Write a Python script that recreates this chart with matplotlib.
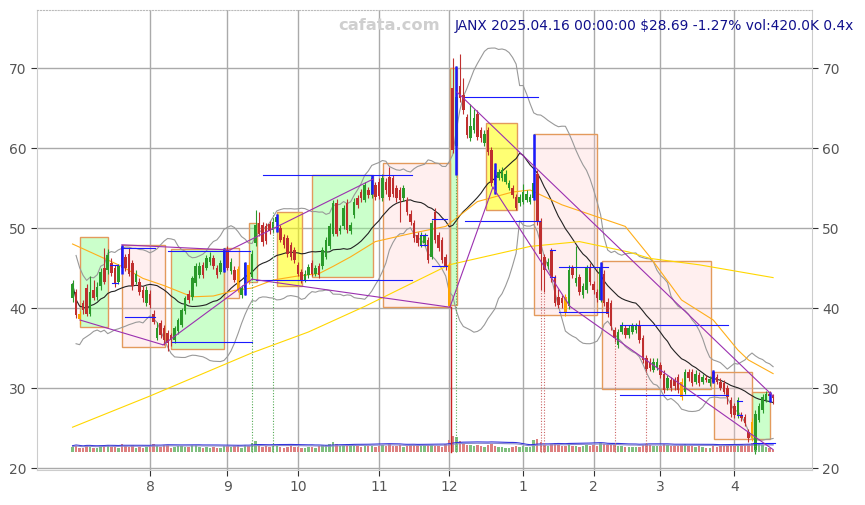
import numpy as np
import pandas as pd
import matplotlib
matplotlib.use("Agg")
import matplotlib.pyplot as plt
from matplotlib.patches import Rectangle

# daily bars, 2024-07-01 .. 2025-04-16
opens = [41.3, 42.0, 39.3, 40.6, 42.5, 39.3, 42.3, 41.4, 42.7, 45.0, 44.7, 45.6, 45.0, 43.3, 47.6, 46.4, 46.8, 45.6, 43.3, 43.3, 42.3, 40.6,
         41.8, 39.3, 36.3, 38.1, 37.5, 36.9, 36.6, 36.0, 37.1, 37.9, 39.6, 41.8, 41.4, 43.1, 44.1, 45.4, 45.0, 45.8, 46.2, 45.0, 44.5, 44.8,
         47.2, 44.6, 44.8, 44.9, 41.6, 42.5, 45.4, 43.9, 48.1, 50.6, 50.4, 50.2, 50.5, 49.7, 50.8, 50.0, 48.9, 48.7, 47.9, 47.2,
         45.4, 44.5, 43.5, 44.1, 45.6, 44.3, 45.2, 45.2, 46.4, 47.7, 49.3, 53.1, 49.6, 50.2, 53.1, 49.6, 51.6, 53.7, 54.5, 53.5, 54.7, 54.1, 55.4,
         55.8, 53.7, 55.8, 56.4, 56.2, 55.0, 54.7, 53.7, 53.5, 51.8, 50.6, 49.1, 47.9, 48.1, 48.5, 46.4, 52.0, 49.1, 48.5, 46.4,
         45.4, 67.5, 60.2, 67.7, 66.6, 63.9, 61.2, 62.2, 64.3, 62.2, 60.6, 62.2, 59.7, 57.2, 56.3, 56.2, 55.8, 55.0, 55.0, 53.9, 53.1,
         53.3, 53.5, 53.3, 53.7, 56.8, 50.8, 46.4, 45.3, 47.2, 43.7, 41.4, 41.2, 41.4, 40.2, 45.0, 43.1, 43.9, 41.6, 42.2, 45.0,
         43.0, 42.0, 41.0, 44.3, 40.8, 40.6, 37.2, 35.4, 37.0, 37.5, 36.6, 37.0, 37.2, 37.9, 36.2, 33.7, 33.3, 32.3, 32.5,
         32.9, 31.8, 30.0, 31.0, 31.0, 31.4, 30.8, 29.5, 32.0, 32.0, 30.8, 31.6, 30.8, 31.2, 30.6, 32.0, 31.4, 30.8, 30.6, 30.0, 28.5,
         27.7, 26.6, 26.6, 26.4, 24.5, 25.8, 22.2, 26.0, 27.2, 28.5, 29.3, 29.1]
highs = [43.5, 42.4, 39.6, 41.0, 43.0, 44.0, 43.5, 43.2, 45.0, 47.5, 47.4, 46.2, 45.4, 45.5, 47.9, 46.8, 47.5, 46.0, 44.8, 43.7, 42.7, 42.7,
         42.2, 39.8, 38.2, 38.5, 37.9, 37.2, 36.9, 37.8, 38.8, 40.0, 41.5, 42.3, 44.0, 45.6, 45.8, 45.8, 46.6, 47.0, 46.6, 45.4, 46.0, 47.5,
         47.7, 46.2, 45.2, 45.3, 42.9, 45.8, 45.8, 47.2, 52.2, 52.0, 50.8, 50.6, 50.9, 51.2, 51.8, 50.4, 49.3, 49.1, 48.3, 47.6,
         45.8, 44.9, 44.7, 45.5, 46.0, 45.4, 45.6, 47.6, 48.9, 50.6, 53.5, 53.6, 50.4, 52.9, 53.6, 50.8, 53.7, 54.1, 54.9, 55.8, 55.1, 56.6, 55.8,
         56.2, 56.8, 56.2, 57.6, 56.6, 55.4, 55.1, 55.4, 53.9, 52.2, 51.0, 49.5, 49.5, 49.4, 48.9, 51.0, 52.5, 49.5, 48.9, 46.8,
         45.8, 71.2, 70.2, 71.8, 68.7, 64.3, 65.5, 64.9, 64.7, 62.6, 62.2, 62.6, 60.1, 58.1, 57.4, 57.6, 57.2, 56.0, 55.4, 54.3, 54.3,
         55.5, 54.7, 54.3, 61.8, 57.2, 51.2, 46.8, 46.2, 47.5, 44.1, 42.4, 41.6, 41.8, 45.4, 45.4, 47.7, 44.3, 43.1, 45.4, 45.6,
         43.4, 42.4, 45.8, 44.7, 41.2, 41.0, 37.6, 37.4, 38.3, 37.9, 37.9, 38.1, 38.1, 38.5, 36.6, 34.1, 33.7, 33.7, 33.7,
         33.3, 32.2, 31.6, 31.4, 31.4, 31.8, 31.2, 32.4, 32.4, 32.4, 32.2, 32.0, 31.8, 31.6, 31.5, 32.2, 31.8, 31.2, 31.0, 30.4, 28.9,
         28.1, 28.9, 27.0, 26.8, 24.9, 26.2, 27.2, 28.1, 29.3, 29.6, 29.6, 29.3]
lows = [40.8, 38.8, 38.0, 39.2, 39.0, 39.0, 41.0, 41.0, 42.3, 43.0, 44.3, 44.0, 42.6, 43.0, 44.6, 44.6, 44.0, 42.3, 43.0, 41.6, 40.8, 40.2,
        40.0, 38.0, 36.0, 36.2, 35.4, 34.6, 35.2, 35.6, 36.8, 37.6, 39.3, 40.6, 41.0, 42.8, 43.8, 43.8, 44.7, 45.4, 44.9, 43.8, 44.2, 44.5,
        44.7, 44.3, 43.2, 42.0, 41.2, 41.6, 43.0, 43.5, 47.8, 49.0, 47.8, 48.0, 49.2, 49.4, 49.5, 48.2, 47.5, 46.4, 46.0, 45.6,
        44.0, 43.1, 43.2, 43.8, 44.0, 44.0, 43.8, 44.9, 46.1, 47.4, 49.0, 49.0, 49.3, 49.9, 49.4, 49.3, 51.3, 52.5, 53.3, 53.2, 53.8, 53.8, 53.5,
        53.6, 53.4, 54.3, 53.5, 53.9, 53.3, 50.8, 53.4, 51.6, 50.4, 48.3, 47.7, 47.6, 47.8, 45.6, 46.1, 48.1, 47.1, 45.6, 44.8,
        40.1, 59.4, 56.6, 65.8, 64.3, 61.2, 60.9, 61.9, 61.0, 60.8, 60.3, 59.1, 55.2, 54.3, 56.0, 55.9, 55.5, 54.7, 53.8, 52.2, 52.8,
        53.0, 53.2, 53.0, 53.5, 50.4, 42.3, 42.0, 44.9, 43.3, 40.2, 40.0, 40.0, 39.0, 39.9, 43.8, 42.8, 41.6, 41.3, 41.9, 42.9,
        41.8, 40.8, 40.7, 40.2, 38.9, 37.3, 35.8, 35.0, 36.7, 36.2, 36.3, 36.7, 36.9, 35.6, 33.1, 32.0, 32.1, 32.0, 32.2,
        31.2, 29.4, 29.7, 29.6, 29.8, 29.4, 28.5, 29.2, 30.9, 30.3, 30.5, 30.3, 30.5, 30.7, 30.3, 30.6, 30.5, 29.7, 29.2, 28.0, 26.4,
        26.2, 26.3, 25.9, 25.3, 23.3, 23.4, 21.8, 25.7, 26.9, 28.2, 28.3, 28.0]
closes = [43.0, 39.1, 38.6, 39.7, 39.3, 42.0, 41.3, 42.6, 44.5, 43.3, 46.6, 44.4, 43.0, 45.2, 45.0, 45.0, 44.3, 42.7, 44.3, 42.0, 41.2, 42.3,
          40.4, 38.3, 37.5, 36.6, 36.0, 35.6, 36.0, 37.5, 38.5, 39.7, 41.2, 41.0, 43.7, 45.2, 45.2, 44.1, 46.2, 46.4, 45.2, 44.1, 45.6, 47.2,
          45.0, 45.8, 43.5, 42.3, 42.5, 45.6, 43.3, 46.8, 50.4, 49.3, 48.2, 48.4, 49.6, 50.8, 51.4, 48.5, 47.9, 46.8, 46.4, 46.0,
          44.3, 43.5, 44.3, 45.1, 44.3, 45.0, 44.1, 47.2, 48.5, 50.2, 53.1, 49.3, 50.0, 52.5, 49.8, 50.4, 53.3, 52.9, 53.7, 55.4, 54.1, 56.2, 53.9,
          54.0, 56.2, 54.7, 53.9, 54.3, 53.7, 53.5, 55.0, 52.0, 50.8, 48.7, 48.1, 49.1, 49.0, 46.0, 50.6, 48.5, 47.5, 46.0, 45.2,
          40.3, 59.8, 66.4, 66.2, 64.7, 61.6, 62.7, 63.7, 61.4, 61.2, 61.8, 59.5, 55.6, 55.4, 57.0, 57.2, 56.8, 55.6, 54.1, 52.5, 53.9,
          54.5, 54.3, 53.9, 55.6, 50.8, 46.8, 44.8, 45.8, 43.7, 40.6, 40.4, 40.6, 39.4, 44.8, 44.1, 43.7, 42.0, 42.7, 45.0, 43.3,
          42.2, 41.2, 45.0, 40.6, 39.3, 37.7, 36.2, 37.0, 37.9, 36.6, 37.5, 37.7, 37.7, 36.0, 33.5, 32.4, 32.5, 33.3, 33.3,
          31.6, 29.8, 31.2, 30.0, 30.2, 29.8, 28.9, 32.0, 31.2, 30.6, 31.8, 30.6, 31.4, 31.0, 31.1, 30.8, 30.8, 30.0, 29.5, 28.9, 26.8,
          26.6, 28.5, 26.2, 25.6, 23.7, 23.7, 26.8, 27.7, 28.9, 29.2, 29.06, 28.69]
volumes = [900, 1100, 800, 700, 1200, 950, 650, 800, 1000, 1100, 1300, 900, 850, 700, 1400, 1000, 900, 1200, 800, 850, 750, 900,
           1000, 1500, 1100, 900, 1200, 1300, 800, 900, 1000, 1100, 950, 850, 1200, 1300, 900, 800, 850, 700, 900, 750, 800, 1100,
           1000, 900, 1100, 1200, 800, 1300, 1000, 1600, 1900, 1200, 900, 1000, 850, 1100, 1000, 900, 800, 950, 1000, 850,
           900, 800, 750, 850, 900, 800, 1000, 1200, 1300, 1400, 1700, 1500, 1000, 1300, 1400, 1000, 1200, 1000, 900, 1100, 1000, 1100, 900,
           1000, 1300, 1000, 1400, 1100, 1000, 1200, 900, 1100, 1200, 1300, 1000, 1000, 1200, 1300, 1200, 1100, 1000, 900, 1400,
           2200, 2900, 2600, 2000, 1600, 1300, 1200, 1100, 1300, 1000, 900, 1200, 1400, 1100, 900, 850, 800, 700, 900, 1000, 900,
           1000, 900, 850, 2100, 2400, 1800, 1300, 1100, 1500, 1600, 1200, 1000, 1000, 1500, 1000, 1100, 900, 1000, 1200, 1100,
           1300, 1000, 1600, 1500, 1200, 1400, 1300, 1100, 1000, 900, 950, 850, 900, 900, 1200, 1500, 1300, 1000, 1000,
           1100, 1400, 1200, 1000, 1000, 1100, 1300, 1400, 1100, 1000, 900, 1000, 900, 800, 800, 1000, 900, 1000, 1100, 1200, 1300,
           1200, 1300, 1400, 1300, 1500, 1600, 1800, 1400, 1200, 900, 800, 420]
orange_days = [2, 47, 50, 107, 140, 173, 193]

holidays = ["2024-07-04", "2024-09-02", "2024-11-28", "2024-12-25",
            "2025-01-01", "2025-01-09", "2025-01-20", "2025-02-17"]

# long averages (bar index, price)
sma50_idx = [0, 7, 14, 20, 26, 34, 40, 46, 51, 57, 64, 70, 74, 79, 86, 96, 106, 115, 125, 130, 139, 149, 157, 164, 173, 182, 189, 192, 199]
sma50_val = [48.0, 46.6, 45.2, 43.7, 42.8, 41.4, 41.5, 42.2, 42.5, 43.5, 44.0, 44.3, 45.2, 46.4, 48.3, 49.3, 50.2, 53.3, 54.5, 54.75,
             52.9, 51.4, 50.2, 46.4, 41.0, 38.5, 34.75, 33.5, 31.8]
sma200_idx = [0, 22, 51, 67, 83, 107, 130, 144, 158, 164, 178, 199]
sma200_val = [25.1, 29.0, 34.4, 37.0, 40.2, 45.4, 47.7, 48.3, 47.0, 46.2, 45.4, 43.8]

# pattern boxes: start, end, low, high, kind
box_start = [2.1, 14.0, 28.0, 43.0, 50.1, 58.1, 68.0, 88.2, 107.2, 117.4, 131.1, 150.4, 182.2, 193.0]
box_end = [10.1, 26.2, 43.0, 47.3, 52.4, 65.2, 85.3, 107.2, 109.2, 126.2, 149.0, 181.4, 193.0, 198.0]
box_low = [37.6, 35.1, 34.9, 41.2, 43.2, 42.8, 43.9, 40.1, 40.4, 52.3, 39.1, 29.9, 23.6, 23.6]
box_high = [48.9, 47.9, 47.4, 47.5, 50.6, 52.0, 56.6, 58.1, 70.0, 63.1, 61.8, 45.9, 32.0, 29.5]
box_kind = ["g", "p", "g", "p", "g", "y", "g", "p", "g", "y", "p", "p", "p", "g"]

# support / resistance levels
lvl_start = [14.1, 10.6, 11.2, 14.9, 27.1, 28.2, 54.1, 52.0, 102.0, 102.0, 111.5, 111.5, 138.2, 138.2, 155.5, 155.5, 193.3,
             135.5, 135.5, 98.8, 98.8, 188.8, 188.8]
lvl_end = [23.4, 12.9, 12.9, 23.4, 50.4, 51.0, 96.4, 96.4, 106.4, 106.4, 132.2, 132.8, 152.1, 152.1, 186.2, 186.2, 199.6,
           137.0, 137.0, 100.8, 100.8, 190.2, 190.2]
lvl_price = [47.5, 45.4, 43.1, 38.9, 47.1, 35.75, 56.6, 43.5, 51.1, 45.25, 66.4, 50.9, 45.1, 39.5, 37.9, 29.1, 23.1,
             47.25, 43.9, 49.1, 47.9, 28.4, 26.6]

# gap markers
gap_idx = [14, 43, 49, 58, 85, 109, 120, 131, 150, 182, 198]
gap_lo = [44.2, 44.5, 41.6, 49.5, 54.2, 56.6, 54.2, 53.5, 41.0, 30.6, 28.3]
gap_hi = [47.9, 47.5, 45.8, 51.8, 56.6, 70.2, 58.1, 61.8, 45.8, 32.2, 29.5]

# trend lines
tl_i0 = [2.1, 14.0, 25.7, 44.7, 51.0, 107.2, 109.2, 119.4, 141.3]
tl_p0 = [38.5, 47.9, 35.4, 47.25, 43.6, 40.1, 67.0, 55.1, 40.2]
tl_i1 = [25.7, 44.7, 51.0, 85.3, 107.2, 119.4, 199.0, 141.3, 199.0]
tl_p1 = [35.4, 47.25, 43.6, 56.1, 40.1, 55.1, 29.0, 40.2, 22.3]

# signal verticals
sig_idx = [51, 57, 109, 133, 134, 154, 163, 194]
sig_top = [43.5, 52.0, 56.6, 42.3, 42.0, 36.0, 32.4, 22.9]
sig_kind = ["g", "g", "g", "r", "r", "r", "r", "g"]

GREEN = "#2a9a2a"
RED = "#bf2f2f"
ORANGE = "#ffa500"
VOL_BASE = 22.0
VOL_SCALE = 0.7 / 1000

days = pd.bdate_range("2024-07-01", "2025-04-16")
days = days[~days.isin(pd.to_datetime(holidays))]
n = len(closes)
x = np.arange(n)

o = np.array(opens)
c = np.array(closes)
s = pd.Series(closes)
ma20 = s.rolling(20, min_periods=1).mean()
sd20 = s.rolling(20, min_periods=2).std()

fig = plt.figure(figsize=(8.65, 5.05), dpi=100)
ax = fig.add_axes([37 / 865, 1 - 470 / 505, 775 / 865, 460 / 505])

for i0, i1, lo, hi, k in zip(box_start, box_end, box_low, box_high, box_kind):
    fc = {"g": (0.55, 1.0, 0.55, 0.45), "p": (1.0, 0.8, 0.8, 0.3), "y": (1.0, 1.0, 0.0, 0.55)}[k]
    ax.add_patch(Rectangle((i0, lo), i1 - i0, hi - lo, facecolor=fc, edgecolor="#e39a5c", lw=1, zorder=2))

ax.plot(x, ma20 + 2 * sd20, color="#999999", lw=0.8, zorder=3)
ax.plot(x, ma20 - 2 * sd20, color="#999999", lw=0.8, zorder=3)
ax.plot(x, ma20, color="#222222", lw=0.8, zorder=3)
ax.plot(sma50_idx, sma50_val, color="#ffae1a", lw=0.8, zorder=3)
ax.plot(sma200_idx, sma200_val, color="#ffd700", lw=0.8, zorder=3)

# volume strip at the bottom
vol = np.array(volumes)
vol_col = np.where(c >= o, "#7fbf7f", "#dd8080")
ax.bar(x, vol * VOL_SCALE, bottom=VOL_BASE, width=0.7, color=vol_col, lw=0, zorder=3)
vma = pd.Series(volumes).rolling(20, min_periods=1).mean()
ax.plot(x, VOL_BASE + 1.25 * vma * VOL_SCALE, color="#3333dd", lw=0.8, zorder=3)
ax.plot(x, VOL_BASE + 1.08 * vma * VOL_SCALE, color="#8888cc", lw=0.8, zorder=3)

# candles
col = np.where(c >= o, GREEN, RED).astype(object)
col[orange_days] = ORANGE
ax.vlines(x, lows, highs, colors=list(col), lw=0.8, zorder=4)
body = np.where(np.abs(c - o) < 0.15, 0.15, c - o)
ax.bar(x, body, bottom=o, width=0.72, color=list(col), lw=0, zorder=5)

for i0, i1, p in zip(lvl_start, lvl_end, lvl_price):
    ax.plot([i0, i1], [p, p], color="#1a1aff", lw=0.8, zorder=6)
ax.vlines(gap_idx, gap_lo, gap_hi, colors="#1a1aff", lw=1.8, zorder=6)
for a0, b0, a1, b1 in zip(tl_i0, tl_p0, tl_i1, tl_p1):
    ax.plot([a0, a1], [b0, b1], color="#9b30b0", lw=0.8, zorder=6)
for i, top, k in zip(sig_idx, sig_top, sig_kind):
    ax.plot([i, i], [VOL_BASE, top], color="#55aa55" if k == "g" else "#cc6666", lw=0.8, ls=(0, (1, 1.5)), zorder=6)
ax.plot([107.5, 107.5], [VOL_BASE, 40.1], color="#cc2222", lw=1.0, zorder=6)

ax.set_xlim(-10.1, 210.05)
ax.set_ylim(19.75, 77.25)

month_pos = [i for i in range(1, n) if days[i].month != days[i - 1].month]
ax.set_xticks(month_pos)
ax.set_xticklabels([str(days[i].month) for i in month_pos])
ax.set_yticks(range(20, 71, 10))
ax.tick_params(axis="y", left=True, right=True, labelleft=True, labelright=True)
ax.tick_params(labelsize=10, labelcolor="#555555", color="#333333", length=4)
ax.grid(True, color="#aaaaaa", lw=1)
ax.set_axisbelow(True)
for side in ["left", "right", "bottom"]:
    ax.spines[side].set_color("#cccccc")
ax.spines["top"].set_color("#bbbbbb")
ax.spines["top"].set_linestyle(":")

fig.text(338 / 865, 1 - 26 / 505, "cafata.com", color="#cfcfcf", fontsize=11.7, fontweight="bold", va="center")
fig.text(455 / 865, 1 - 26 / 505, "JANX 2025.04.16 00:00:00 $28.69 -1.27% vol:420.0K 0.4x",
         color="#10108c", fontsize=9.9, va="center")

fig.savefig("out.png", dpi=100)
